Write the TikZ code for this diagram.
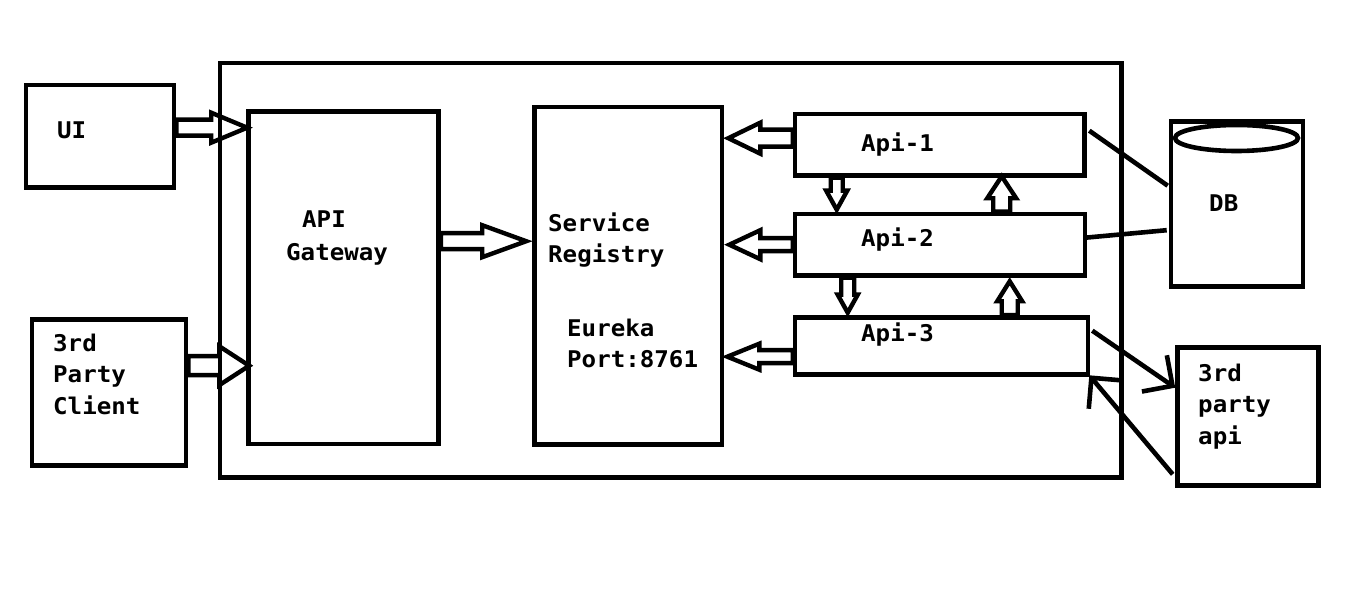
\documentclass[tikz,border=0pt]{standalone}
\usepackage{fontspec}
\newfontfamily\lblfont{DejaVu Sans Mono}[FakeStretch=1.05]
\usetikzlibrary{calc,arrows.meta}
\newcommand\hollowarrow[5]{% #1 start, #2 tip, #3 shaft half width, #4 head half width, #5 head length
  \draw[hollow] let \p1=(#1), \p2=(#2),
    \n1={veclen(\x2-\x1,\y2-\y1)},
    \n2={(\x2-\x1)/\n1}, \n3={(\y2-\y1)/\n1},
    \p3=({\x2-#5*\n2},{\y2-#5*\n3})
  in ({\x1-#3*\n3},{\y1+#3*\n2}) -- ({\x3-#3*\n3},{\y3+#3*\n2}) -- ({\x3-#4*\n3},{\y3+#4*\n2})
     -- (\p2) -- ({\x3+#4*\n3},{\y3-#4*\n2}) -- ({\x3+#3*\n3},{\y3-#3*\n2}) -- ({\x1+#3*\n3},{\y1-#3*\n2}) -- cycle;}
\begin{document}
\begin{tikzpicture}[x=1pt,y=-1pt,
  box/.style={draw, line width=4.6pt, inner sep=0pt},
  hollow/.style={draw, line width=4.4pt, line join=miter},
  link/.style={draw, line width=4.6pt},
  barb/.style={link, -{Straight Barb[length=22pt,width=44pt]}},
  lbl/.style={font={\lblfont\bfseries\fontsize{23pt}{26pt}\selectfont}, inner sep=0pt, anchor=base west}]
\useasboundingbox (0,0) rectangle (1360,593);
% boxes
\node[box, minimum width=901.5pt, minimum height=414.5pt] (outer) at (670.75,270.25) {};
\node[box, minimum width=148pt, minimum height=102.5pt] (ui) at (100,136.25) {};
\node[box, minimum width=154pt, minimum height=146pt] (cl) at (109,392.5) {};
\node[box, minimum width=190pt, minimum height=332.5pt] (gw) at (343.5,277.75) {};
\node[box, minimum width=187.5pt, minimum height=337.5pt] (reg) at (628.25,275.75) {};
\node[box, minimum width=289.5pt, minimum height=61.5pt] (api1) at (939.75,144.75) {};
\node[box, minimum width=290pt, minimum height=61.5pt] (api2) at (940,244.75) {};
\node[box, minimum width=293pt, minimum height=57pt] (api3) at (941.5,346) {};
\node[box, minimum width=132pt, minimum height=165pt] (db) at (1237,204) {};
\draw[line width=4.6pt] (1236.5,138) ellipse [x radius=61.5, y radius=13];
\node[box, minimum width=141pt, minimum height=138pt] (tpa) at (1248,416.5) {};
% texts
\node[lbl] (tui) at (57,139) {UI};
\node[lbl] (tcl1) at (53,352) {3rd};
\node[lbl] (tcl2) at (53,383) {Party};
\node[lbl] (tcl3) at (53,414) {Client};
\node[lbl] (tgw1) at (302,228) {API};
\node[lbl] (tgw2) at (286,261) {Gateway};
\node[lbl] (treg1) at (548,232) {Service};
\node[lbl] (treg2) at (548,263) {Registry};
\node[lbl] (treg3) at (567,337) {Eureka};
\node[lbl] (treg4) at (567,368) {Port:8761};
\node[lbl] (ta1) at (861,152) {Api-1};
\node[lbl] (ta2) at (861,247) {Api-2};
\node[lbl] (ta3) at (861,342) {Api-3};
\node[lbl] (tdb) at (1209,212) {DB};
\node[lbl] (ttp1) at (1198,382) {3rd};
\node[lbl] (ttp2) at (1198,413) {party};
\node[lbl] (ttp3) at (1198,444) {api};
% hollow arrows
\coordinate (uiT) at ($(gw.north west)+(1,18.5)$);
\coordinate (clT) at ($(gw.north west)+(3,256.5)$);
\coordinate (gwT) at ($(reg.north west)+(-6,136.5)$);
\coordinate (a1T) at ($(reg.north east)+(4,33.5)$);
\coordinate (a2T) at ($(reg.north east)+(5,140)$);
\coordinate (a3T) at ($(reg.north east)+(3,252)$);
\coordinate (d1T) at ($(api2.north west)+(44,-2)$);
\coordinate (d2T) at ($(api3.north west)+(55,-2.5)$);
\coordinate (u1T) at ($(api1.south west)+(209,-1.5)$);
\coordinate (u2T) at ($(api2.south west)+(217,3.5)$);
\hollowarrow{ui.east |- uiT}{uiT}{8}{15}{36}
\hollowarrow{cl.east |- clT}{clT}{9.5}{19.5}{30}
\hollowarrow{gw.east |- gwT}{gwT}{8}{16}{44}
\hollowarrow{api1.west |- a1T}{a1T}{8.5}{15.5}{32}
\hollowarrow{api2.west |- a2T}{a2T}{6.5}{14.5}{31}
\hollowarrow{api3.west |- a3T}{a3T}{6.5}{13}{32}
\hollowarrow{d1T |- api1.south}{d1T}{6}{10.5}{19}
\hollowarrow{d2T |- api2.south}{d2T}{6.5}{10}{18}
\hollowarrow{u1T |- api2.north}{u1T}{8.5}{14.5}{22}
\hollowarrow{u2T |- api3.north}{u2T}{8}{12.5}{20}
% plain connectors
\coordinate (db1a) at ($(api1.north east)+(2.5,19)$);
\coordinate (db1b) at ($(db.north west)+(-1,66.5)$);
\coordinate (db2a) at ($(api2.north east)+(-2,26)$);
\coordinate (db2b) at ($(db.north west)+(-2,111)$);
\draw[link] (db1a) -- (db1b);
\draw[link] (db2a) -- (db2b);
\coordinate (tp1a) at ($(api3.north east)+(2,15.5)$);
\coordinate (tp1b) at ($(tpa.north west)+(0,42.5)$);
\coordinate (tp2a) at ($(tpa.south west)+(-2.5,-13.5)$);
\coordinate (tp2b) at ($(api3.south east)+(-1,-1.5)$);
\draw[barb] (tp1a) -- (tp1b);
\draw[barb] (tp2a) -- (tp2b);
\end{tikzpicture}
\end{document}
